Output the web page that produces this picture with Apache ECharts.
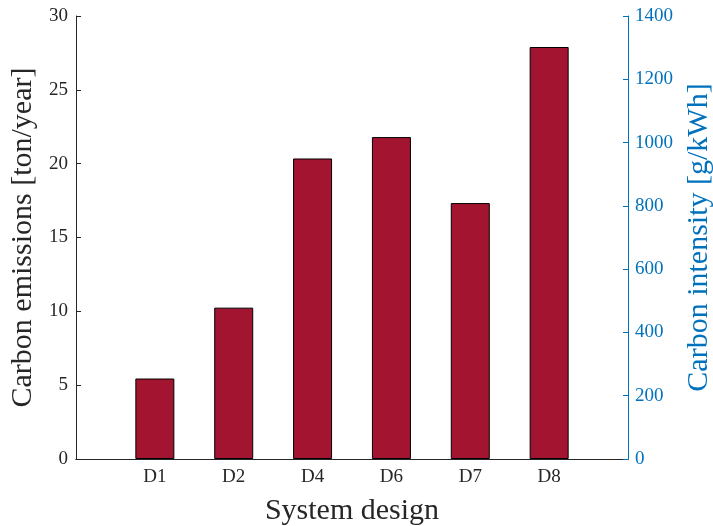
<!DOCTYPE html>
<html>
<head>
<meta charset="utf-8">
<script src="https://cdn.jsdelivr.net/npm/echarts@6/dist/echarts.min.js"></script>
<style>html,body{margin:0;padding:0;background:#fff;}#c{width:713px;height:526px;}</style>
</head>
<body>
<div id="c"></div>
<script>
var categories = ['D1', 'D2', 'D4', 'D6', 'D7', 'D8'];
var emissions = [5.45, 10.25, 20.35, 21.8, 17.33, 27.9];
var leftTicks = [0, 5, 10, 15, 20, 25, 30];
var rightTicks = [0, 200, 400, 600, 800, 1000, 1200, 1400];

var paddedCats = [''].concat(categories).concat(['']);
var paddedVals = [null].concat(emissions).concat([null]);
var font = 'Liberation Serif';
var dark = '#262626';
var blue = '#0072BD';

var chart = echarts.init(document.getElementById('c'));
chart.setOption({
  animation: false,
  backgroundColor: '#fff',
  grid: { left: 76, right: 85, top: 16, bottom: 67, containLabel: false, outerBoundsMode: 'none' },
  xAxis: [{
    type: 'category',
    data: paddedCats,
    boundaryGap: false,
    name: 'System design',
    nameLocation: 'middle',
    nameGap: 37,
    nameTextStyle: { fontFamily: font, fontSize: 30, color: dark },
    axisLine: { lineStyle: { color: dark, width: 1 } },
    axisTick: { inside: true, length: 5, lineStyle: { color: dark },
      interval: function (i) { return i > 0 && i < paddedCats.length - 1; } },
    axisLabel: { fontFamily: font, fontSize: 19, color: dark, margin: 9,
      interval: 0 },
    splitLine: { show: false }
  }, {
    type: 'category',
    data: paddedCats,
    boundaryGap: false,
    position: 'top',
    axisLine: { lineStyle: { color: dark, width: 1 } },
    axisTick: { show: false },
    axisLabel: { show: false }
  }],
  yAxis: [{
    type: 'value',
    min: 0, max: 30, interval: 5,
    name: 'Carbon emissions [ton/year]',
    nameLocation: 'middle',
    nameGap: 25,
    nameTextStyle: { fontFamily: font, fontSize: 30, color: dark },
    axisLine: { show: true, lineStyle: { color: dark, width: 1 } },
    axisTick: { show: true, inside: true, length: 5, lineStyle: { color: dark } },
    axisLabel: { fontFamily: font, fontSize: 19, color: dark, margin: 8,
      formatter: function (v) { return leftTicks.indexOf(v) >= 0 ? String(v) : ''; } },
    splitLine: { show: false }
  }, {
    type: 'value',
    min: 0, max: 1400, interval: 200,
    position: 'right',
    name: 'Carbon intensity [g/kWh]',
    nameLocation: 'middle',
    nameGap: 56,
    nameTextStyle: { fontFamily: font, fontSize: 30, color: blue },
    axisLine: { show: true, lineStyle: { color: blue, width: 1 } },
    axisTick: { show: true, inside: true, length: 5, lineStyle: { color: blue } },
    axisLabel: { fontFamily: font, fontSize: 19, color: blue, margin: 7,
      formatter: function (v) { return rightTicks.indexOf(v) >= 0 ? String(v) : ''; } },
    splitLine: { show: false }
  }],
  series: [{
    type: 'bar',
    data: paddedVals,
    xAxisIndex: 0,
    yAxisIndex: 0,
    barWidth: 39,
    itemStyle: { color: '#A2142F', borderColor: '#000', borderWidth: 1 }
  }]
});
</script>
</body>
</html>
